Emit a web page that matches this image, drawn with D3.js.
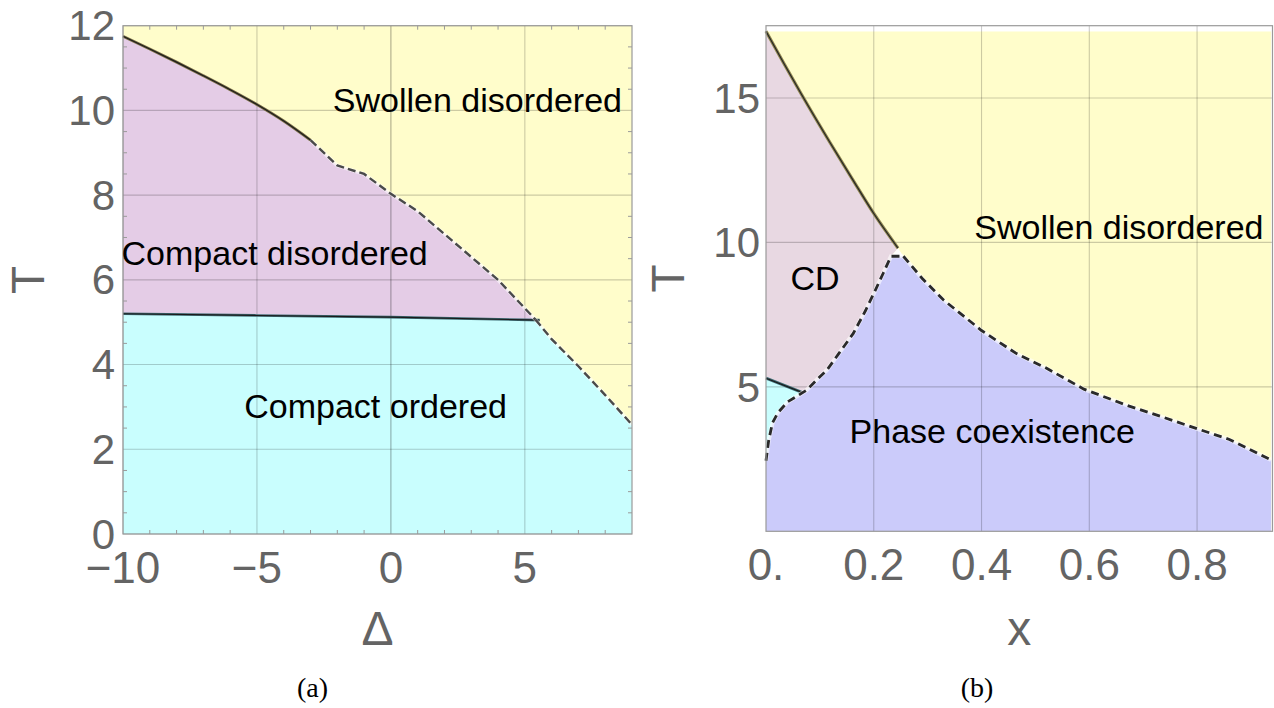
<!DOCTYPE html>
<html>
<head>
<meta charset="utf-8">
<script src="https://cdn.jsdelivr.net/npm/d3@7"></script>
<style>
  body { margin: 0; background: #fff; }
  svg { display: block; }
</style>
</head>
<body>
<svg id="chart" width="1274" height="708"></svg>
<script>
// ---------- Panel (a): phase diagram in the (Δ, T) plane ----------
const deltaTicks = [-10, -5, 0, 5];
const tTicksA = [0, 2, 4, 6, 8, 10, 12];

// compact disordered | swollen disordered, solid part
const upperSolidDelta = [-10, -9, -8, -7, -6, -5, -4, -3];
const upperSolidT     = [11.75, 11.45, 11.14, 10.82, 10.49, 10.14, 9.75, 9.3];
// compact disordered | swollen disordered, dashed part
const upperDashDelta = [-3, -2, -1, 0, 1, 4, 5.4];
const upperDashT     = [9.3, 8.7, 8.5, 8.03, 7.62, 6.0, 5.06];
// compact ordered | compact disordered
const orderDelta = [-10, -5, 0, 5.55];
const orderT     = [5.2, 5.16, 5.12, 5.05];
// compact ordered | swollen disordered
const lowerDashDelta = [5.4, 6, 7, 8, 9];
const lowerDashT     = [5.06, 4.6, 3.96, 3.28, 2.58];

const labelsA = ["Swollen disordered", "Compact disordered", "Compact ordered"];
const labelDeltaA = [3.23, -4.34, -0.57];
const labelTA = [9.97, 6.35, 2.74];

// ---------- Panel (b): phase diagram in the (x, T) plane ----------
const xTicksB = [0, 0.2, 0.4, 0.6, 0.8];
const xTickLabelsB = ["0.", "0.2", "0.4", "0.6", "0.8"];
const tTicksB = [5, 10, 15];

// CD | swollen disordered (solid)
const cdSdX = [0, 0.033, 0.066, 0.119, 0.16, 0.2, 0.245];
const cdSdT = [17.31, 16.2, 15.12, 13.45, 12.2, 11.0, 9.8];
// compact phases | phase coexistence (dashed)
const coexLeftX = [0, 0.005, 0.012, 0.022, 0.04, 0.068, 0.0756, 0.1, 0.113, 0.135, 0.162, 0.185, 0.203, 0.218, 0.232, 0.255];
const coexLeftT = [2.44, 3.15, 3.75, 4.1, 4.48, 4.8, 4.89, 5.35, 5.58, 6.15, 6.85, 7.65, 8.35, 8.95, 9.52, 9.52];
// swollen disordered | phase coexistence (dashed)
const coexRightX = [0.255, 0.29, 0.33, 0.4, 0.465, 0.52, 0.59, 0.67, 0.74, 0.8, 0.86, 0.9375];
const coexRightT = [9.52, 8.75, 8.0, 6.95, 6.15, 5.65, 4.92, 4.36, 3.93, 3.55, 3.18, 2.47];
// compact ordered | CD (solid)
const coCdX = [0, 0.068];
const coCdT = [5.3, 4.8];

const xMaxData = 0.9375, tMaxData = 17.3;

const labelsB = ["Swollen disordered", "CD", "Phase coexistence"];
const labelXB = [0.655, 0.091, 0.42];
const labelTB = [10.13, 8.34, 3.05];

// ---------- shared styling ----------
const C = {
  swollen: "#fffdcb",
  compactDis: "#e4cce6",
  compactOrd: "#c9fefe",
  cdB: "#e8d8e2",
  coex: "#cbcbfa",
  grid: "#000",
  frame: "#9a9a9a",
  tick: "#646464"
};
const SANS = "'Liberation Sans', Arial, Helvetica, sans-serif";

const svg = d3.select("#chart");
const zip = (xs, ys) => xs.map((x, i) => [x, ys[i]]);

// ================= Panel (a) =================
const xA = d3.scaleLinear().domain([-10, 9]).range([123, 632]);
const yA = d3.scaleLinear().domain([0, 12]).range([534, 25.7]);
const lineA = d3.line().x(d => xA(d[0])).y(d => yA(d[1]));
const smoothA = d3.line().x(d => xA(d[0])).y(d => yA(d[1])).curve(d3.curveMonotoneX);

const gA = svg.append("g");
const [dA0, dA1] = xA.domain();
const [tA0, tA1] = yA.domain();

// swollen background
gA.append("rect")
  .attr("x", xA(dA0)).attr("y", yA(tA1))
  .attr("width", xA(dA1) - xA(dA0)).attr("height", yA(tA0) - yA(tA1))
  .attr("fill", C.swollen);

const upperSolid = zip(upperSolidDelta, upperSolidT);
const upperDash = zip(upperDashDelta, upperDashT);
const order = zip(orderDelta, orderT);
const lowerDash = zip(lowerDashDelta, lowerDashT);

// compact disordered region: curved top edge followed by the straight pieces
const cdTop = smoothA(upperSolid);
const cdRest = lineA([upperSolid[upperSolid.length - 1], ...upperDash.slice(1),
  ...order.slice(0, -1).reverse()]).replace(/^M/, "L");
gA.append("path").attr("d", cdTop + cdRest + "Z").attr("fill", C.compactDis);

// compact ordered region
const coPoly = [[dA0, tA0], ...order.slice(0, -1), ...lowerDash, [dA1, tA0]];
gA.append("path").attr("d", lineA(coPoly) + "Z").attr("fill", C.compactOrd);

// grid
gA.selectAll(".gx").data(deltaTicks).join("line")
  .attr("x1", d => xA(d)).attr("x2", d => xA(d))
  .attr("y1", yA(tA0)).attr("y2", yA(tA1))
  .attr("stroke", C.grid).attr("stroke-opacity", d => d === 0 ? 0.32 : 0.2).attr("stroke-width", 1.1);
gA.selectAll(".gy").data(tTicksA).join("line")
  .attr("x1", xA(dA0)).attr("x2", xA(dA1))
  .attr("y1", d => yA(d)).attr("y2", d => yA(d))
  .attr("stroke", C.grid).attr("stroke-opacity", 0.2).attr("stroke-width", 1.1);

// minor ticks on all four edges
const minorDelta = d3.range(-9, 9, 1).filter(d => !deltaTicks.includes(d));
const minorT = d3.range(0.5, 12, 0.5).filter(d => !tTicksA.includes(d));
const tickG = gA.append("g").attr("stroke", C.frame).attr("stroke-width", 1);
minorDelta.forEach(d => {
  tickG.append("line").attr("x1", xA(d)).attr("x2", xA(d)).attr("y1", yA(tA0)).attr("y2", yA(tA0) - 4);
  tickG.append("line").attr("x1", xA(d)).attr("x2", xA(d)).attr("y1", yA(tA1)).attr("y2", yA(tA1) + 4);
});
minorT.forEach(t => {
  tickG.append("line").attr("x1", xA(dA0)).attr("x2", xA(dA0) + 4).attr("y1", yA(t)).attr("y2", yA(t));
  tickG.append("line").attr("x1", xA(dA1)).attr("x2", xA(dA1) - 4).attr("y1", yA(t)).attr("y2", yA(t));
});

// boundaries
gA.append("path").attr("d", smoothA(upperSolid)).attr("fill", "none")
  .attr("stroke", "#7a6e46").attr("stroke-width", 2.8).attr("stroke-linejoin", "round");
gA.append("path").attr("d", smoothA(upperSolid)).attr("fill", "none")
  .attr("stroke", "#1c1c1c").attr("stroke-width", 1.2).attr("stroke-linejoin", "round");

gA.append("path").attr("d", lineA(order)).attr("fill", "none")
  .attr("stroke", "#3d6a72").attr("stroke-width", 2.6);
gA.append("path").attr("d", lineA(order)).attr("fill", "none")
  .attr("stroke", "#1a1a1a").attr("stroke-width", 1.1);

[upperDash, lowerDash].forEach(pts => {
  gA.append("path").attr("d", lineA(pts)).attr("fill", "none")
    .attr("stroke", "#fff").attr("stroke-opacity", 0.55).attr("stroke-width", 3.8);
  gA.append("path").attr("d", lineA(pts)).attr("fill", "none")
    .attr("stroke", "#4a4a4a").attr("stroke-width", 2.4).attr("stroke-dasharray", "8 4");
});

// frame
gA.append("rect")
  .attr("x", xA(dA0)).attr("y", yA(tA1))
  .attr("width", xA(dA1) - xA(dA0)).attr("height", yA(tA0) - yA(tA1))
  .attr("fill", "none").attr("stroke", C.frame).attr("stroke-width", 1.2);

// region labels
gA.selectAll(".lab").data(labelsA).join("text")
  .attr("x", (d, i) => xA(labelDeltaA[i])).attr("y", (d, i) => yA(labelTA[i]))
  .attr("text-anchor", "middle").attr("font-family", SANS).attr("font-size", 34)
  .attr("fill", "#000").text(d => d);

// tick labels
gA.selectAll(".xt").data(deltaTicks).join("text")
  .attr("x", d => xA(d)).attr("y", yA(tA0) + 49)
  .attr("text-anchor", "middle").attr("font-family", SANS).attr("font-size", 44)
  .attr("fill", C.tick).text(d => d < 0 ? "\u2212" + Math.abs(d) : d);
gA.selectAll(".yt").data(tTicksA).join("text")
  .attr("x", xA(dA0) - 8).attr("y", d => yA(d) + 14.5)
  .attr("text-anchor", "end").attr("font-family", SANS).attr("font-size", 42)
  .attr("fill", C.tick).text(d => d);

// axis titles
gA.append("text").attr("x", (xA(dA0) + xA(dA1)) / 2).attr("y", 645)
  .attr("text-anchor", "middle").attr("font-family", SANS).attr("font-size", 48)
  .attr("fill", C.tick).text("Δ");
gA.append("text").attr("transform", `translate(44,${(yA(tA0) + yA(tA1)) / 2}) rotate(-90)`)
  .attr("text-anchor", "middle").attr("font-family", SANS).attr("font-size", 46)
  .attr("fill", C.tick).text("T");

// ================= Panel (b) =================
const xB = d3.scaleLinear().domain([0, 0.94]).range([766, 1272.5]);
const yB = d3.scaleLinear().domain([0, 17.5]).range([531.3, 25.7]);
const lineB = d3.line().x(d => xB(d[0])).y(d => yB(d[1]));
const smoothB = d3.line().x(d => xB(d[0])).y(d => yB(d[1])).curve(d3.curveMonotoneX);
const gB = svg.append("g");
const [xB0, xB1] = xB.domain();
const [tB0, tB1] = yB.domain();

const cdSd = zip(cdSdX, cdSdT);
const coexLeft = zip(coexLeftX, coexLeftT);
const coexRight = zip(coexRightX, coexRightT);
const coCd = zip(coCdX, coCdT);

// swollen background (data region)
gB.append("rect")
  .attr("x", xB(0)).attr("y", yB(tMaxData))
  .attr("width", xB(xMaxData) - xB(0)).attr("height", yB(0) - yB(tMaxData))
  .attr("fill", C.swollen);

// phase coexistence region
const coexPoly = [[0, 0], ...coexLeft, ...coexRight.slice(1), [xMaxData, 0]];
gB.append("path").attr("d", lineB(coexPoly) + "Z").attr("fill", C.coex);

// CD region
const junction = coexLeft.findIndex(p => p[0] === coCdX[1]);
const cdRegion = [[0, coCdT[0]], ...cdSd, ...coexLeft.slice(junction, coexLeft.length - 1).reverse()];
gB.append("path").attr("d", lineB(cdRegion) + "Z").attr("fill", C.cdB);

// unfilled notch between the solid line's end and the coexistence peak
const peakL = coexLeft[coexLeft.length - 2], peakR = coexLeft[coexLeft.length - 1];
gB.append("path").attr("d", lineB([cdSd[cdSd.length - 1], peakL, peakR]) + "Z").attr("fill", "#fff");

// compact ordered sliver
const coRegion = [...coexLeft.slice(0, junction + 1), [0, coCdT[0]]];
gB.append("path").attr("d", lineB(coRegion) + "Z").attr("fill", C.compactOrd);

// grid
gB.selectAll(".gx").data(xTicksB.filter(d => d > 0)).join("line")
  .attr("x1", d => xB(d)).attr("x2", d => xB(d))
  .attr("y1", yB(tB0)).attr("y2", yB(tB1))
  .attr("stroke", C.grid).attr("stroke-opacity", 0.2).attr("stroke-width", 1.1);
gB.selectAll(".gy").data(tTicksB).join("line")
  .attr("x1", xB(xB0)).attr("x2", xB(xB1))
  .attr("y1", d => yB(d)).attr("y2", d => yB(d))
  .attr("stroke", C.grid).attr("stroke-opacity", 0.2).attr("stroke-width", 1.1);

// boundaries
gB.append("path").attr("d", smoothB(cdSd)).attr("fill", "none")
  .attr("stroke", "#8f8650").attr("stroke-width", 3.2);
gB.append("path").attr("d", smoothB(cdSd)).attr("fill", "none")
  .attr("stroke", "#262626").attr("stroke-width", 1.2);
gB.append("path").attr("d", lineB(coCd)).attr("fill", "none")
  .attr("stroke", "#3d6a72").attr("stroke-width", 2.8);
gB.append("path").attr("d", lineB(coCd)).attr("fill", "none")
  .attr("stroke", "#1a1a1a").attr("stroke-width", 1.1);
[coexLeft, coexRight].forEach(pts => {
  gB.append("path").attr("d", lineB(pts)).attr("fill", "none")
    .attr("stroke", "#fff").attr("stroke-opacity", 0.6).attr("stroke-width", 4.2);
  gB.append("path").attr("d", lineB(pts)).attr("fill", "none")
    .attr("stroke", "#2a2a2a").attr("stroke-width", 2.8).attr("stroke-dasharray", "8 5");
});

// frame
gB.append("rect")
  .attr("x", xB(xB0)).attr("y", yB(tB1))
  .attr("width", xB(xB1) - xB(xB0)).attr("height", yB(tB0) - yB(tB1))
  .attr("fill", "none").attr("stroke", C.frame).attr("stroke-width", 1.2);

// region labels
gB.selectAll(".lab").data(labelsB).join("text")
  .attr("x", (d, i) => xB(labelXB[i])).attr("y", (d, i) => yB(labelTB[i]))
  .attr("text-anchor", "middle").attr("font-family", SANS).attr("font-size", 34)
  .attr("fill", "#000").text(d => d);

// tick labels
gB.selectAll(".xt").data(xTicksB).join("text")
  .attr("x", d => xB(d)).attr("y", yB(tB0) + 49)
  .attr("text-anchor", "middle").attr("font-family", SANS).attr("font-size", 44)
  .attr("fill", C.tick).text((d, i) => xTickLabelsB[i]);
gB.selectAll(".yt").data(tTicksB).join("text")
  .attr("x", xB(xB0) - 6).attr("y", d => yB(d) + 15)
  .attr("text-anchor", "end").attr("font-family", SANS).attr("font-size", 42)
  .attr("fill", C.tick).text(d => d);

// axis titles
gB.append("text").attr("x", (xB(xB0) + xB(xB1)) / 2).attr("y", 645)
  .attr("text-anchor", "middle").attr("font-family", SANS).attr("font-size", 48)
  .attr("fill", C.tick).text("x");
gB.append("text").attr("transform", `translate(684,${(yB(tB0) + yB(tB1)) / 2}) rotate(-90)`)
  .attr("text-anchor", "middle").attr("font-family", SANS).attr("font-size", 46)
  .attr("fill", C.tick).text("T");

// ================= sub-figure captions =================
const captions = ["(a)", "(b)"];
const captionX = [312.5, 977];
svg.selectAll(".cap").data(captions).join("text")
  .attr("x", (d, i) => captionX[i]).attr("y", 697)
  .attr("text-anchor", "middle").attr("font-family", "'Liberation Serif', 'DejaVu Serif', serif")
  .attr("font-size", 28).attr("fill", "#000").text(d => d);
</script>
</body>
</html>
